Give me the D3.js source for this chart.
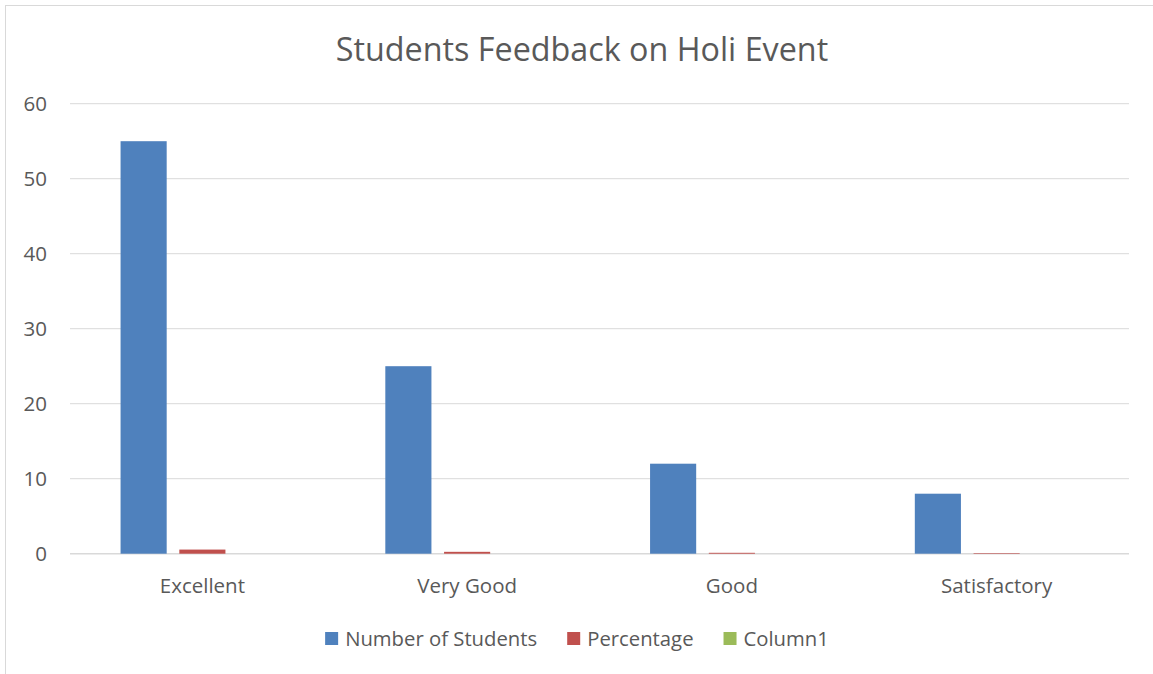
<!DOCTYPE html>
<html>
<head>
<meta charset="utf-8">
<script src="https://cdn.jsdelivr.net/npm/d3@7"></script>
<style>
    body { margin: 0; background: #fff; }
    text { font-family: "Open Sans", sans-serif; fill: #595959; }
</style>
</head>
<body>
<div id="chart"></div>
<script>
// chart data
let categories = ["Excellent", "Very Good", "Good", "Satisfactory"];
let seriesNames = ["Number of Students", "Percentage", "Column1"];
let numberOfStudents = [55, 25, 12, 8];
let percentage = [0.55, 0.25, 0.12, 0.08];
let column1 = [0, 0, 0, 0];
let yTicks = [0, 10, 20, 30, 40, 50, 60];
let titleText = "Students Feedback on Holi Event";

let colors = {"Number of Students": "#4f81bd", "Percentage": "#c0504d", "Column1": "#9bbb59"};

let width = 1153, height = 674;
let margin = {top: 103.7, right: 24, bottom: 120.3, left: 70};

let svg = d3.select("#chart").append("svg")
    .attr("width", width)
    .attr("height", height);

// outer chart border (only left / top visible in the crop)
svg.append("rect")
    .attr("x", 5.5)
    .attr("y", 5.5)
    .attr("width", width + 20)
    .attr("height", height + 20)
    .attr("fill", "none")
    .attr("stroke", "#d9d9d9")
    .attr("stroke-width", 1);

// title
svg.append("text")
    .attr("x", 582)
    .attr("y", 61)
    .attr("text-anchor", "middle")
    .style("font-size", "32.3px")
    .text(titleText);

// scales
let x0 = d3.scaleBand()
    .domain(categories)
    .range([margin.left, width - margin.right])
    .paddingInner(0)
    .paddingOuter(0);

let bw = x0.bandwidth();
let x1 = d3.scaleBand()
    .domain(seriesNames)
    .range([bw * 0.191, bw * (1 - 0.191)])
    .paddingInner(0.215)
    .paddingOuter(0);

let y = d3.scaleLinear()
    .domain([0, 60])
    .range([height - margin.bottom, margin.top]);

// gridlines
svg.append("g")
    .selectAll("line")
    .data(yTicks)
    .enter().append("line")
    .attr("x1", margin.left)
    .attr("x2", width - margin.right)
    .attr("y1", d => y(d))
    .attr("y2", d => y(d))
    .attr("stroke", "#d9d9d9")
    .attr("stroke-width", d => d === 0 ? 1.5 : 1);

// y tick labels
svg.append("g")
    .selectAll("text")
    .data(yTicks)
    .enter().append("text")
    .attr("x", 47)
    .attr("y", d => y(d))
    .attr("dy", "0.36em")
    .attr("text-anchor", "end")
    .style("font-size", "20.5px")
    .text(d => d);

// build grouped rows
let rows = categories.map((c, i) => ({
    category: c,
    values: [
        {key: "Number of Students", value: numberOfStudents[i]},
        {key: "Percentage", value: percentage[i]},
        {key: "Column1", value: column1[i]}
    ]
}));

let groups = svg.append("g")
    .selectAll("g")
    .data(rows)
    .enter().append("g")
    .attr("transform", d => `translate(${x0(d.category)},0)`);

groups.selectAll("rect")
    .data(d => d.values)
    .enter().append("rect")
    .attr("x", d => x1(d.key))
    .attr("y", d => y(d.value))
    .attr("width", x1.bandwidth())
    .attr("height", d => y(0) - y(d.value))
    .attr("fill", d => colors[d.key]);

// category labels
svg.append("g")
    .selectAll("text")
    .data(categories)
    .enter().append("text")
    .attr("x", d => x0(d) + bw / 2)
    .attr("y", 593)
    .attr("text-anchor", "middle")
    .style("font-size", "20.5px")
    .text(d => d);

// legend
let legend = svg.append("g");
let cursor = 0;
let gap = 30;
seriesNames.forEach((name, i) => {
    let item = legend.append("g").attr("transform", `translate(${cursor},0)`);
    item.append("rect")
        .attr("x", 0)
        .attr("y", 632)
        .attr("width", 13)
        .attr("height", 13)
        .attr("fill", colors[name]);
    let t = item.append("text")
        .attr("x", 20)
        .attr("y", 646)
        .style("font-size", "20.3px")
        .text(name);
    cursor += 20 + t.node().getComputedTextLength() + gap;
});
let legendWidth = cursor - gap;
legend.attr("transform", `translate(${577 - legendWidth / 2},0)`);
</script>
</body>
</html>
